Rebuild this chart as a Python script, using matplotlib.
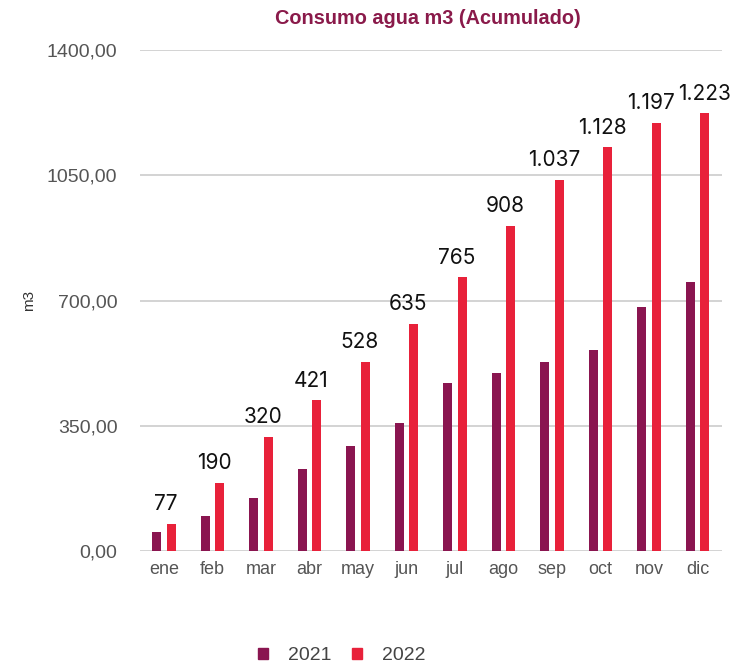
import matplotlib
matplotlib.use("Agg")
import matplotlib.pyplot as plt
import numpy as np
from matplotlib.patches import Patch

months = ["ene", "feb", "mar", "abr", "may", "jun", "jul", "ago", "sep", "oct", "nov", "dic"]
v2021 = [54, 97, 149, 230, 293, 357, 469, 499, 529, 561, 681, 753]
v2022 = [77, 190, 320, 421, 528, 635, 765, 908, 1037, 1128, 1197, 1223]
labels2022 = ["77", "190", "320", "421", "528", "635", "765", "908", "1.037", "1.128", "1.197", "1.223"]
yticks = [0, 350, 700, 1050, 1400]
ytick_labels = ["0,00", "350,00", "700,00", "1050,00", "1400,00"]

c21 = "#8A1550"
c22 = "#E8213A"
gray = "#555555"

plt.rcParams['font.family'] = ['Liberation Sans', 'DejaVu Sans']
fig = plt.figure(figsize=(7.35, 6.68), dpi=100)
ax = fig.add_axes([0.19, 0.175, 0.792, 0.75])

x = np.arange(len(months))
w = 0.19
ax.bar(x - 0.15, v2021, width=w, color=c21, zorder=3)
ax.bar(x + 0.15, v2022, width=w, color=c22, zorder=3)

texts = []
for xi, v, lab in zip(x, v2022, labels2022):
    t = ax.annotate(lab, (xi + 0.04, v), xytext=(0, 7), textcoords="offset points",
                    ha="center", va="bottom", fontsize=15, color="#111111",
                    family=['Inter', 'DejaVu Sans'], annotation_clip=False)
    texts.append(t)

ax.set_xlim(-0.5, 11.5)
ax.set_ylim(0, 1400)
ax.set_yticks(yticks)
ax.set_yticklabels(ytick_labels, fontsize=14, color=gray)
ax.set_xticks(x)
ax.set_xticklabels(months, fontsize=13, color=gray)
ax.tick_params(axis="both", length=0)
ax.tick_params(axis="x", pad=7)
ax.tick_params(axis="y", pad=16)
ax.grid(axis="y", color="#CCCCCC", linewidth=1.2, zorder=0)
for s in ax.spines.values():
    s.set_visible(False)
ax.set_ylabel("m3", fontsize=11, color="#333333", labelpad=8)

fig.text(0.582, 0.973, "Consumo agua m3 (Acumulado)", ha="center", va="center",
         fontsize=14.3, fontweight="bold", color="#8A1A4A")

handles = [Patch(color=c21, label="2021"), Patch(color=c22, label="2022")]
fig.legend(handles=handles, loc="center", bbox_to_anchor=(0.465, 0.018), ncol=2,
           frameon=False, fontsize=14, handlelength=0.5, handleheight=0.5,
           handletextpad=1.0, columnspacing=1.1, labelcolor="#444444")

# keep the last label aligned like the reference (pushed right to the edge of the chart)
fig.canvas.draw()
r = fig.canvas.get_renderer()
last = texts[-1]
bb = last.get_window_extent(r)
shift_px = (fig.bbox.width - 4) - bb.x1
if shift_px > 0:
    last.xyann = (shift_px * 72 / fig.dpi, 7)

fig.savefig("out.png", dpi=100)
